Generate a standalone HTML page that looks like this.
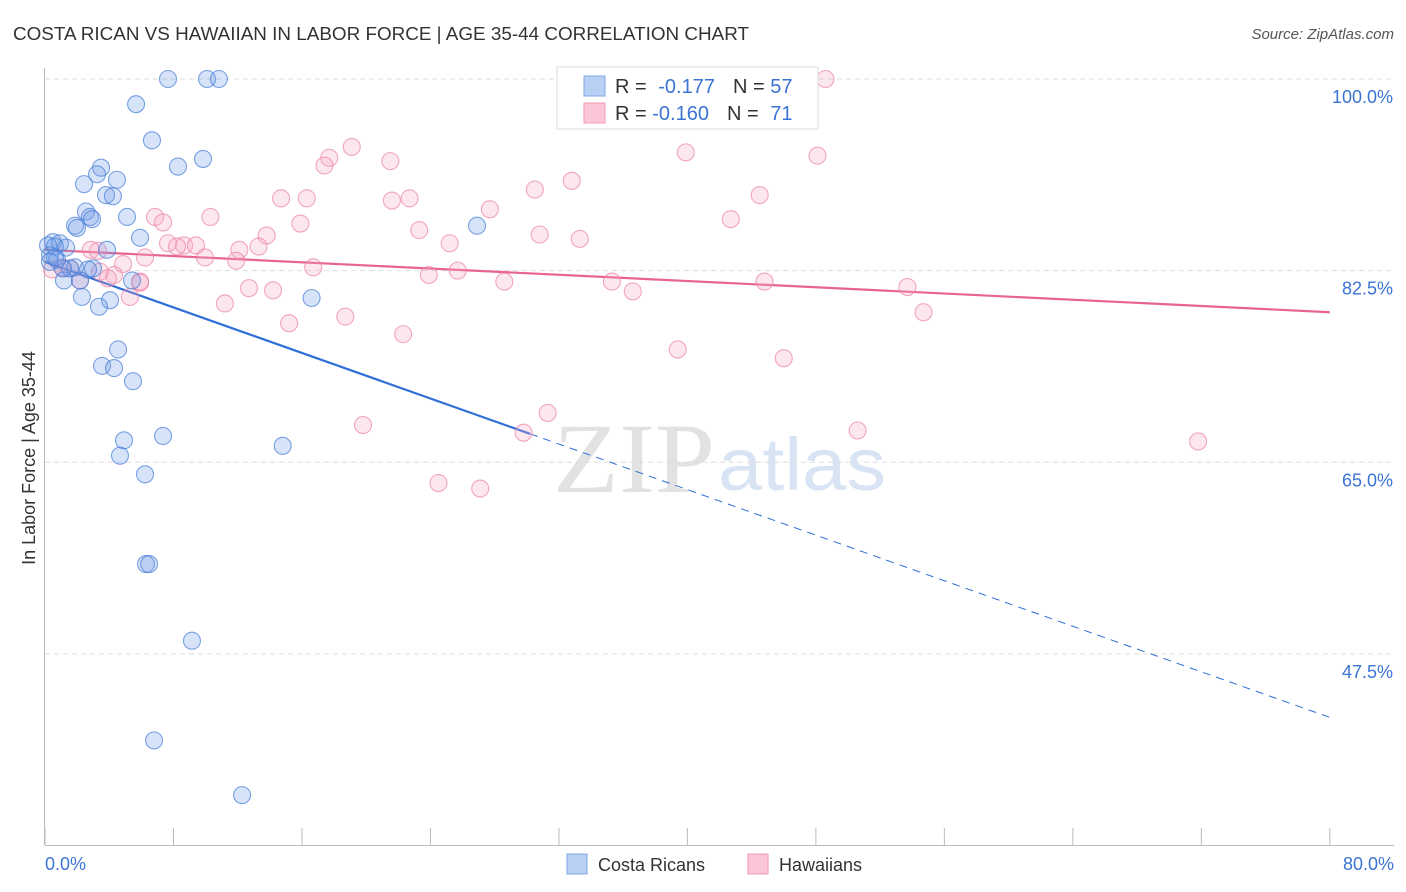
<!DOCTYPE html>
<html><head><meta charset="utf-8">
<style>
body{margin:0;background:#fff;font-family:"Liberation Sans",sans-serif;}
#wrap{position:relative;width:1406px;height:892px;overflow:hidden;}
</style></head>
<body>
<div id="wrap">
<svg id="chart" width="1406" height="892" xmlns="http://www.w3.org/2000/svg">
<text x="13" y="40" font-size="18" fill="#333" textLength="736" lengthAdjust="spacingAndGlyphs">COSTA RICAN VS HAWAIIAN IN LABOR FORCE | AGE 35-44 CORRELATION CHART</text>
<text x="1394" y="39" font-size="15" fill="#555" font-style="italic" text-anchor="end">Source: ZipAtlas.com</text>
<text x="35" y="458" font-size="18" fill="#333" text-anchor="middle" transform="rotate(-90 35 458)">In Labor Force | Age 35-44</text>
<g>
<text x="553" y="492" font-size="100" fill="#e2e2e2" font-family="Liberation Serif,serif" textLength="162" lengthAdjust="spacingAndGlyphs">ZIP</text>
<text x="718" y="490" font-size="74" fill="#d8e4f4" textLength="168" lengthAdjust="spacingAndGlyphs">atlas</text>
</g>
<g id="grid"></g><g id="axes"></g><g id="trends"></g><g id="pts"></g>
<g>
<rect x="557" y="67" width="261" height="62" fill="#fff" stroke="#ddd"/>
<rect x="584" y="76" width="21" height="20" fill="#b9d0f5" stroke="#7fa8e6"/>
<rect x="584" y="103" width="21" height="20" fill="#fbc7d6" stroke="#f09ab5"/>
<text x="615" y="93" font-size="20" fill="#333">R = <tspan fill="#3b74d4" dx="6">-0.177</tspan><tspan dx="18" fill="#333">N = </tspan><tspan fill="#3b74d4">57</tspan></text>
<text x="615" y="120" font-size="20" fill="#333">R = <tspan fill="#3b74d4">-0.160</tspan><tspan dx="18" fill="#333">N = </tspan><tspan fill="#3b74d4" dx="6">71</tspan></text>
</g>
<g>
<rect x="567" y="854" width="20" height="20" fill="#b9d0f5" stroke="#7fa8e6"/>
<text x="598" y="871" font-size="18" fill="#333">Costa Ricans</text>
<rect x="748" y="854" width="20" height="20" fill="#fbc7d6" stroke="#f09ab5"/>
<text x="779" y="871" font-size="18" fill="#333">Hawaiians</text>
</g>
</svg>
</div>
<script>
const blueX=[7.66,10.09,10.83,5.67,6.66,8.28,9.84,3.49,3.24,4.48,2.43,3.80,4.23,5.11,2.55,2.80,2.93,1.87,1.99,5.92,0.50,0.93,0.19,0.62,1.31,3.86,0.31,0.75,1.56,1.87,2.99,2.68,1.18,2.18,5.42,2.30,4.05,3.36,16.6,4.55,3.55,4.30,5.48,26.9,7.35,4.92,4.67,14.8,6.23,6.29,6.48,9.15,6.79,12.27,0.31,1.12,0.62];
const blueY=[100,100,100,97.7,94.4,92.0,92.7,91.9,91.3,90.8,90.4,89.4,89.3,87.4,87.9,87.4,87.2,86.6,86.4,85.5,85.1,85.0,84.8,84.7,84.6,84.4,83.9,83.5,82.7,82.8,82.7,82.6,81.6,81.6,81.6,80.1,79.8,79.2,80.0,75.3,73.8,73.6,72.4,86.6,67.4,67.0,65.6,66.5,63.9,55.7,55.7,48.7,39.6,34.6,83.3,82.7,83.7];
const pinkX=[48.6,39.9,48.1,19.1,17.7,17.4,21.5,32.8,30.5,44.5,14.7,16.3,22.7,21.6,27.7,6.85,7.35,10.3,42.7,15.9,23.3,30.8,33.3,13.8,7.66,25.2,8.66,9.40,8.22,12.1,13.3,2.86,3.30,6.23,9.96,11.9,4.86,16.7,1.06,0.44,1.56,4.30,5.92,3.92,25.7,23.9,28.6,35.3,36.6,44.8,53.7,12.7,14.2,5.29,11.2,54.7,18.7,15.2,22.3,39.4,46.0,31.3,19.8,29.8,50.6,71.8,24.5,27.1,2.18,5.92,3.42];
const pinkY=[100,93.3,93.0,93.8,92.8,92.1,92.5,90.7,89.9,89.4,89.1,89.1,89.1,88.9,88.1,87.4,86.9,87.4,87.2,86.8,86.2,85.8,85.4,85.7,85.0,85.0,84.8,84.8,84.7,84.4,84.7,84.4,84.3,83.7,83.7,83.4,83.1,82.8,82.8,82.6,82.7,82.1,81.4,81.8,82.5,82.1,81.5,81.5,80.6,81.5,81.0,80.9,80.7,80.1,79.5,78.7,78.3,77.7,76.7,75.3,74.5,69.5,68.4,67.7,67.9,66.9,63.1,62.6,81.6,81.5,82.4];
const blueTrend=[83.3,41.7];
const blueSolidEnd=30.2;
const pinkTrend=[84.4,78.7];
const yTicks=[100,82.5,65,47.5];
const yTickLabels=["100.0%","82.5%","65.0%","47.5%"];
const xTicks=[0,8,16,24,32,40,48,56,64,72,80];

const NS="http://www.w3.org/2000/svg";
const xs=v=>45+v*16.06;
const ys=v=>79+(100-v)*10.95;
function mk(tag,attrs,parent){const e=document.createElementNS(NS,tag);for(const k in attrs)e.setAttribute(k,attrs[k]);parent.appendChild(e);return e;}
const grid=document.getElementById('grid'),axes=document.getElementById('axes'),tr=document.getElementById('trends'),pts=document.getElementById('pts');
yTicks.forEach((t,i)=>{
 const l=mk('line',{x1:45,x2:1394,y1:ys(t),y2:ys(t),stroke:'#ddd','stroke-dasharray':'5,4'},grid);
 
 
 const tx=mk('text',{x:1393,y:ys(t)+24,'font-size':18,fill:'#3b74d4','text-anchor':'end'},axes);
 tx.textContent=yTickLabels[i];
 
 
});
const ya=mk('line',{x1:44.5,x2:44.5,y1:68,y2:845,stroke:'#bbb'},axes);


const xa=mk('line',{x1:45,x2:1394,y1:845.5,y2:845.5,stroke:'#bbb'},axes);


xTicks.forEach(t=>{
 const l=mk('line',{x1:xs(t),x2:xs(t),y1:828,y2:845,stroke:'#bbb'},axes);
 
 
});
const xl0=mk('text',{x:45,y:870,'font-size':18,fill:'#3b74d4'},axes);xl0.textContent=xTicks[0].toFixed(1)+'%';


const xl1=mk('text',{x:1394,y:870,'font-size':18,fill:'#3b74d4','text-anchor':'end'},axes);xl1.textContent=xTicks[xTicks.length-1].toFixed(1)+'%';



function drawPts(X,Y,fill,stroke,name){X.forEach((x,i)=>{const c=mk('circle',{cx:xs(x),cy:ys(Y[i]),r:8.5,fill:fill,stroke:stroke,'stroke-width':1.1},pts);
 
 });}
drawPts(pinkX,pinkY,'rgba(247,170,196,0.28)','rgba(236,130,165,0.7)','hawaiian-point');
drawPts(blueX,blueY,'rgba(110,155,230,0.28)','rgba(70,125,215,0.7)','costa-rican-point');

const bAt=v=>blueTrend[0]+(blueTrend[1]-blueTrend[0])*v/80;
const b1=mk('line',{x1:xs(0),y1:ys(bAt(0)),x2:xs(blueSolidEnd),y2:ys(bAt(blueSolidEnd)),stroke:'#2f6fd6','stroke-width':2.2},tr);


const b2=mk('line',{x1:xs(blueSolidEnd),y1:ys(bAt(blueSolidEnd)),x2:xs(80),y2:ys(bAt(80)),stroke:'#2f6fd6','stroke-width':1,'stroke-dasharray':'8,6'},tr);


const p1=mk('line',{x1:xs(0),y1:ys(pinkTrend[0]),x2:xs(80),y2:ys(pinkTrend[1]),stroke:'#e8648f','stroke-width':2.2},tr);


</script>
</body></html>
